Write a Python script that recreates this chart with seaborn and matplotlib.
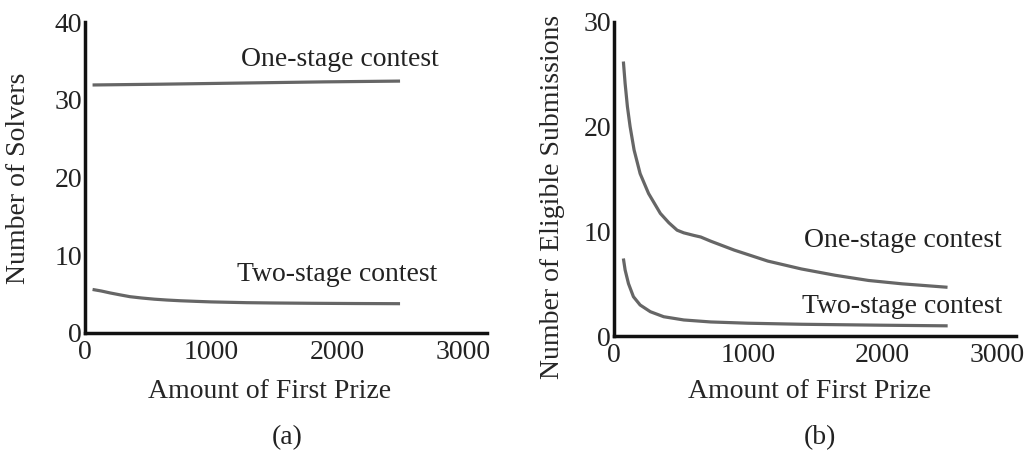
import matplotlib
matplotlib.use("Agg")
import matplotlib.pyplot as plt
import matplotlib.transforms as mtransforms
import seaborn as sns
import pandas as pd

# ---- data ----
a_one_x = [60, 600, 1250, 1900, 2500]
a_one_y = [31.9, 32.0, 32.15, 32.3, 32.4]
a_two_x = [60, 130, 200, 280, 357, 450, 550, 650, 754, 880, 1000, 1140, 1283, 1500, 1812, 2150, 2500]
a_two_y = [5.6, 5.4, 5.15, 4.9, 4.67, 4.5, 4.35, 4.24, 4.15, 4.07, 4.0, 3.95, 3.9, 3.86, 3.82, 3.79, 3.77]

b_one_x = [70, 83, 100, 120, 150, 195, 258, 346, 410, 471, 520, 596, 647, 722, 897,
           1148, 1398, 1649, 1900, 2150, 2489]
b_one_y = [26.2, 24.1, 21.9, 20.0, 17.75, 15.5, 13.6, 11.7, 10.8, 10.1, 9.85, 9.6, 9.45, 9.05, 8.2,
           7.15, 6.4, 5.8, 5.3, 4.98, 4.65]
b_two_x = [70, 83, 108, 145, 195, 271, 371, 521, 722, 1000, 1400, 2000, 2490]
b_two_y = [7.4, 6.3, 5.0, 3.75, 2.96, 2.32, 1.84, 1.53, 1.34, 1.22, 1.12, 1.03, 0.97]

x_ticks = [0, 1000, 2000, 3000]
a_yticks = [0, 10, 20, 30, 40]
b_yticks = [0, 10, 20, 30]
label_one = "One-stage contest"
label_two = "Two-stage contest"
xlabel = "Amount of First Prize"
a_ylabel = "Number of Solvers"
b_ylabel = "Number of Eligible Submissions"

sns.set_style("white")
plt.rcParams["font.family"] = ["Liberation Serif", "DejaVu Serif"]
plt.rcParams["text.color"] = "#222222"

fig = plt.figure(figsize=(10.3, 4.59), dpi=100)
W, H = 1030, 459
axa = fig.add_axes([85 / W, 1 - 333 / H, 402 / W, 311 / H])
axb = fig.add_axes([614 / W, 1 - 336 / H, 402 / W, 314.3 / H])

line_color = "#666666"
fs = 20


def make_df(x, y, name):
    return pd.DataFrame({"x": x, "y": y, "series": name})


for ax, (ox, oy, tx, ty) in [
    (axa, (a_one_x, a_one_y, a_two_x, a_two_y)),
    (axb, (b_one_x, b_one_y, b_two_x, b_two_y)),
]:
    df = pd.concat([make_df(ox, oy, label_one), make_df(tx, ty, label_two)])
    sns.lineplot(data=df, x="x", y="y", hue="series", units="series",
                 estimator=None, palette=[line_color, line_color],
                 linewidth=2.3, legend=False, ax=ax)
    for l in ax.lines:
        l.set_solid_joinstyle("round")
        l.set_solid_capstyle("butt")

axa.set_xlim(0, 3190)
axa.set_ylim(0, 40)
axb.set_xlim(0, 3000)
axb.set_ylim(0, 30)
axa.set_yticks(a_yticks)
axb.set_yticks(b_yticks)

for ax in (axa, axb):
    ax.set_xticks(x_ticks)
    ax.set_xticklabels([str(t) for t in x_ticks])
    for s in ("top", "right"):
        ax.spines[s].set_visible(False)
    for s in ("left", "bottom"):
        ax.spines[s].set_color("#111111")
        ax.spines[s].set_linewidth(2.5)
    ax.tick_params(axis="both", direction="in", length=5, width=2,
                   color="#111111", labelsize=fs, labelcolor="#222222")
    ax.tick_params(axis="x", pad=5)
    ax.tick_params(axis="y", pad=2)
    ax.set_xlabel(xlabel, fontsize=fs)
    ax.patch.set_alpha(0)

# the last tick label of panel (b) sits a little to the left, as in the reference
last_lbl = axb.get_xticklabels()[-1]
last_lbl.set_transform(last_lbl.get_transform() +
                       mtransforms.ScaledTranslation(-19 / 100, 0, fig.dpi_scale_trans))

axa.set_ylabel(a_ylabel, fontsize=fs)
axb.set_ylabel(b_ylabel, fontsize=fs)
axa.xaxis.set_label_coords(0.46, -0.148)
axb.xaxis.set_label_coords(0.4876, -0.138)
axa.yaxis.set_label_coords(-0.135, 0.498)
axb.yaxis.set_label_coords(-0.122, 0.444)

axa.text(2024, 35.2, label_one, ha="center", va="center", fontsize=fs)
axa.text(2000, 7.46, label_two, ha="center", va="center", fontsize=fs)
axb.text(2156, 9.16, label_one, ha="center", va="center", fontsize=fs)
axb.text(2150, 2.8, label_two, ha="center", va="center", fontsize=fs)

fig.text(287 / W, 1 - 438 / H, "(a)", ha="center", va="center", fontsize=fs)
fig.text(820 / W, 1 - 438 / H, "(b)", ha="center", va="center", fontsize=fs)

fig.savefig("out.png", dpi=100, facecolor="white")
